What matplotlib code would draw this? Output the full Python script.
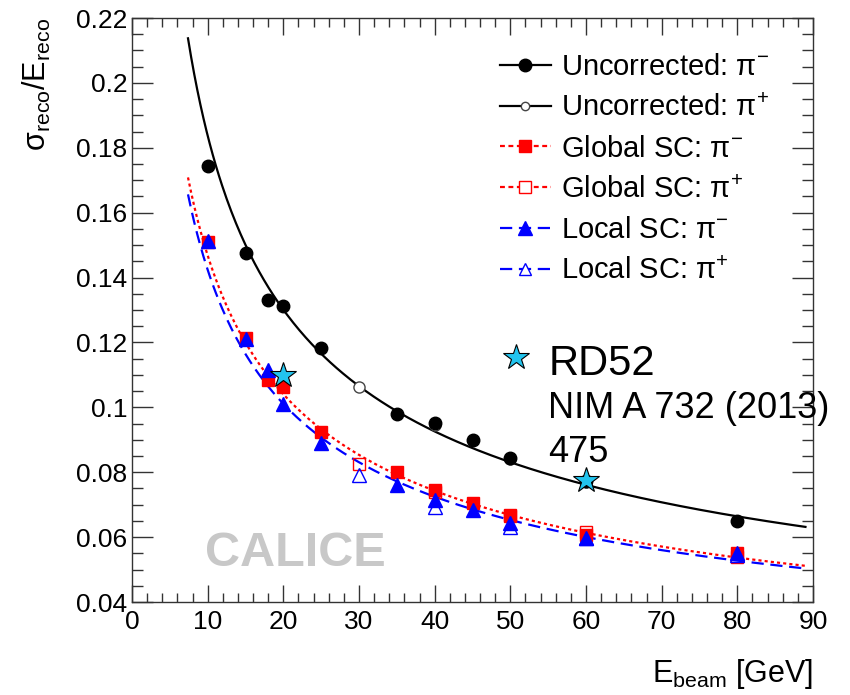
import numpy as np
import matplotlib
matplotlib.use("Agg")
import matplotlib.pyplot as plt
from matplotlib.ticker import MultipleLocator, FormatStrFormatter
from matplotlib.lines import Line2D

plt.rcParams["font.family"] = ["Liberation Sans", "DejaVu Sans"]
plt.rcParams["mathtext.fontset"] = "custom"
plt.rcParams["mathtext.rm"] = "Liberation Sans"
plt.rcParams["mathtext.it"] = "Liberation Sans:italic"

# beam energies (GeV)
E_NEG = [10, 15, 18, 20, 25, 35, 40, 45, 50, 60, 80]
E_POS = [30, 40, 50, 60, 80]

# relative resolution sigma/E
UNC_NEG = [0.1745, 0.1475, 0.1331, 0.1313, 0.1184, 0.0979, 0.0951, 0.0899, 0.0843, 0.0772, 0.0649]
UNC_POS = [0.1063, 0.0945, 0.0840, 0.0770, 0.0650]
GLOB_NEG = [0.1510, 0.1215, 0.1084, 0.1062, 0.0925, 0.0802, 0.0745, 0.0704, 0.0668, 0.0608, 0.0552]
GLOB_POS = [0.0825, 0.0740, 0.0665, 0.0615, 0.0538]
LOC_NEG = [0.1514, 0.1210, 0.1115, 0.1010, 0.0889, 0.0760, 0.0714, 0.0685, 0.0644, 0.0598, 0.0550]
LOC_POS = [0.0791, 0.0694, 0.0630, 0.0596, 0.0545]

# RD52 reference points
RD52_E = [20, 60]
RD52_RES = [0.110, 0.0775]

# fit a/sqrt(E) (+) b (+) c/E for uncorrected, global SC, local SC
FIT_STOCH = [0.576, 0.458, 0.443]
FIT_CONST = [0.016, 0.016, 0.018]
FIT_NOISE = [0.18, 0.18, 0.18]
FIT_RANGE = (7.4, 89.0)

STAR_COL = "#22c4ee"
RED = "#ff0000"
BLUE = "#0000ff"

fig = plt.figure(figsize=(8.5, 6.95), dpi=100)
ax = fig.add_axes([0.1553, 0.1338, 0.8012, 0.8403])

e = np.linspace(*FIT_RANGE, 400)
styles = [
    dict(color="black", lw=1.6, ls="-"),
    dict(color=RED, lw=1.6, ls=(0, (1.4, 1.4))),
    dict(color=BLUE, lw=1.6, ls=(0, (5.5, 3.0))),
]
for a, b, c, st in zip(FIT_STOCH, FIT_CONST, FIT_NOISE, styles):
    ax.plot(e, np.sqrt(a**2 / e + b**2 + (c / e) ** 2), **st, zorder=2)

# pi+ (open) first, pi- (filled) on top
ax.plot(E_POS, UNC_POS, "o", ms=8, mfc="white", mec="#444444", mew=1.0, zorder=3)
ax.plot(E_POS, GLOB_POS, "s", ms=8.5, mfc="none", mec=RED, mew=1.0, zorder=3)
ax.plot(E_POS, LOC_POS, "^", ms=10, mfc="none", mec=BLUE, mew=1.0, zorder=3)
ax.plot(E_NEG, UNC_NEG, "o", ms=9, color="black", zorder=4)
ax.plot(E_NEG, GLOB_NEG, "s", ms=8.6, color=RED, mec=RED, zorder=4)
ax.plot(E_NEG, LOC_NEG, "^", ms=10, color=BLUE, mec=BLUE, zorder=5)

ax.plot(RD52_E, RD52_RES, "*", ms=19, mfc=STAR_COL, mec="black", mew=0.8, zorder=6)

# RD52 annotation
ax.plot([50.7], [0.1156], "*", ms=19, mfc=STAR_COL, mec="black", mew=0.8, clip_on=False, zorder=6)
ax.text(55.0, 0.1133, "RD52", fontsize=30, va="center", ha="left")
ax.text(55.0, 0.0997, "NIM A 732 (2013)", fontsize=26, va="center", ha="left")
ax.text(55.0, 0.0861, "475", fontsize=26, va="center", ha="left")

ax.text(21.6, 0.0551, "CALICE", fontsize=35, fontweight="bold", color="#c8c8c8",
        ha="center", va="center", zorder=1)

ax.set_xlim(0, 90)
ax.set_ylim(0.04, 0.22)
ax.xaxis.set_major_locator(MultipleLocator(10))
ax.xaxis.set_minor_locator(MultipleLocator(2))
ax.yaxis.set_major_locator(MultipleLocator(0.02))
ax.yaxis.set_minor_locator(MultipleLocator(0.005))
ax.yaxis.set_major_formatter(FormatStrFormatter("%g"))
ax.tick_params(axis="both", which="both", direction="in", top=True, right=True,
               color="#333333", width=1.0)
ax.tick_params(axis="x", which="major", length=12.5, labelsize=19, pad=5.5)
ax.tick_params(axis="x", which="minor", length=6.3)
ax.tick_params(axis="y", which="major", length=15, labelsize=19, pad=3.5)
ax.tick_params(axis="y", which="minor", length=8)
for sp in ax.spines.values():
    sp.set_linewidth(1.0)
    sp.set_color("#333333")

fig.text(0.9565, 0.019, "E$_{\\mathrm{beam}}$ [GeV]", fontsize=22, ha="right", va="baseline")
fig.text(0.043, 0.974, "σ$_{\\mathrm{reco}}$/E$_{\\mathrm{reco}}$", fontsize=22,
         rotation=90, ha="center", va="top")

handles = [
    Line2D([], [], color="black", lw=1.6, marker="o", ms=9),
    Line2D([], [], color="black", lw=1.6, marker="o", ms=6, mfc="white", mec="#444444"),
    Line2D([], [], color=RED, lw=1.6, ls=(0, (2.2, 1.6)), marker="s", ms=8.6),
    Line2D([], [], color=RED, lw=1.6, ls=(0, (2.2, 1.6)), marker="s", ms=8, mfc="white"),
    Line2D([], [], color=BLUE, lw=1.6, ls=(0, (5.5, 3.0)), marker="^", ms=10),
    Line2D([], [], color=BLUE, lw=1.6, ls=(0, (5.5, 3.0)), marker="^", ms=9, mfc="white"),
]
labels = [
    "Uncorrected: π$^{-}$",
    "Uncorrected: π$^{+}$",
    "Global SC: π$^{-}$",
    "Global SC: π$^{+}$",
    "Local SC: π$^{-}$",
    "Local SC: π$^{+}$",
]
ax.legend(handles, labels, loc="upper left", bbox_to_anchor=(0.5226, 0.96), frameon=False,
          fontsize=21, handlelength=1.75, handletextpad=0.35, labelspacing=0.44,
          borderaxespad=0.0)

fig.savefig("out.png", dpi=100)
